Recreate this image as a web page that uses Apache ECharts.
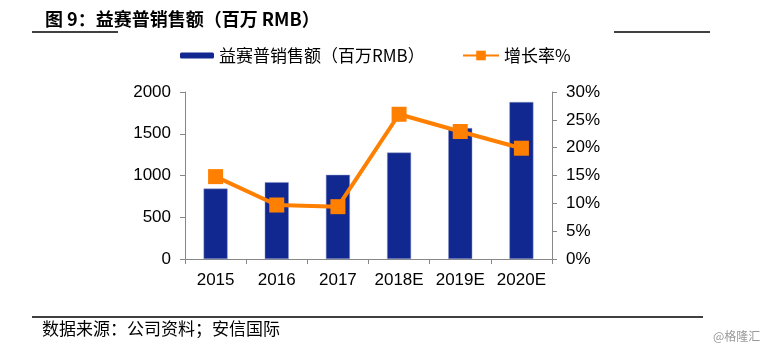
<!DOCTYPE html>
<html>
<head>
<meta charset="utf-8">
<script src="https://cdn.jsdelivr.net/npm/echarts@6/dist/echarts.min.js"></script>
<style>
  html, body { margin: 0; padding: 0; background: #fff; }
  #chart { width: 774px; height: 353px; }
</style>
</head>
<body>
<div id="chart"></div>
<script>
const years = ['2015', '2016', '2017', '2018E', '2019E', '2020E'];
const sales = [843, 920, 1008, 1275, 1568, 1880];
const growth = [14.8, 9.7, 9.4, 26.0, 22.9, 19.9];

const salesName = '益赛普销售额（百万RMB）';
const growthName = '增长率%';

const cjk = '"Noto Sans CJK SC", sans-serif';
const latin = '"Liberation Sans", Arial, sans-serif';

const chart = echarts.init(document.getElementById('chart'));
chart.setOption({
  animation: false,
  backgroundColor: '#fff',
  grid: { left: 185, right: 222, top: 92, bottom: 94, containLabel: false },
  legend: [
    {
      data: [salesName],
      left: 175, top: 42,
      itemWidth: 34, itemHeight: 6, itemGap: 4,
      itemStyle: { borderWidth: 0 },
      textStyle: { fontFamily: cjk, fontSize: 17, color: '#000' }
    },
    {
      data: [growthName],
      left: 457, top: 42,
      itemWidth: 36, itemHeight: 12, itemGap: 4,
      textStyle: { fontFamily: cjk, fontSize: 17, color: '#000' }
    }
  ],
  xAxis: {
    type: 'category',
    data: years,
    axisLine: { lineStyle: { color: '#888', width: 1 } },
    axisTick: { show: true, length: 5, lineStyle: { color: '#888' } },
    axisLabel: { fontFamily: latin, fontSize: 17, color: '#000', margin: 13, interval: 0 }
  },
  yAxis: [
    {
      type: 'value', min: 0, max: 2000, interval: 500,
      axisLine: { show: true, lineStyle: { color: '#888' } },
      axisTick: { show: true, length: 5, lineStyle: { color: '#888' } },
      splitLine: { show: false },
      axisLabel: {
        fontFamily: latin, fontSize: 17, color: '#000', margin: 14,
        formatter: function (v) { return String(v); }
      }
    },
    {
      type: 'value', min: 0, max: 30, interval: 5,
      axisLine: { show: true, lineStyle: { color: '#888' } },
      axisTick: { show: true, length: 5, lineStyle: { color: '#888' } },
      splitLine: { show: false },
      axisLabel: {
        fontFamily: latin, fontSize: 17, color: '#000', margin: 14,
        formatter: function (v) { return v + '%'; }
      }
    }
  ],
  series: [
    {
      name: salesName,
      type: 'bar',
      data: sales,
      barWidth: 24,
      itemStyle: { color: '#10288F', borderColor: '#8a97c8', borderWidth: 0.5 }
    },
    {
      name: growthName,
      type: 'line',
      yAxisIndex: 1,
      data: growth,
      symbol: 'rect',
      symbolSize: 15,
      lineStyle: { color: '#FF8000', width: 4 },
      itemStyle: { color: '#FF8000' }
    }
  ],
  graphic: [
    {
      type: 'text', left: 45, top: 10,
      style: { text: '图 9：益赛普销售额（百万 RMB）', font: 'bold 18px ' + cjk, fill: '#000' }
    },
    { type: 'line', shape: { x1: 32, y1: 32, x2: 118, y2: 32 }, style: { stroke: '#000', lineWidth: 1.5 } },
    { type: 'line', shape: { x1: 614, y1: 32, x2: 710, y2: 32 }, style: { stroke: '#000', lineWidth: 1.5 } },
    { type: 'line', shape: { x1: 32, y1: 317, x2: 703, y2: 317 }, style: { stroke: '#000', lineWidth: 1.5 } },
    {
      type: 'text', left: 42, top: 320,
      style: { text: '数据来源：公司资料；安信国际', font: '17px ' + cjk, fill: '#000' }
    },
    {
      type: 'text', left: 713, top: 330,
      style: { text: '@格隆汇', font: '12px ' + cjk, fill: '#999' }
    }
  ]
});
</script>
</body>
</html>
